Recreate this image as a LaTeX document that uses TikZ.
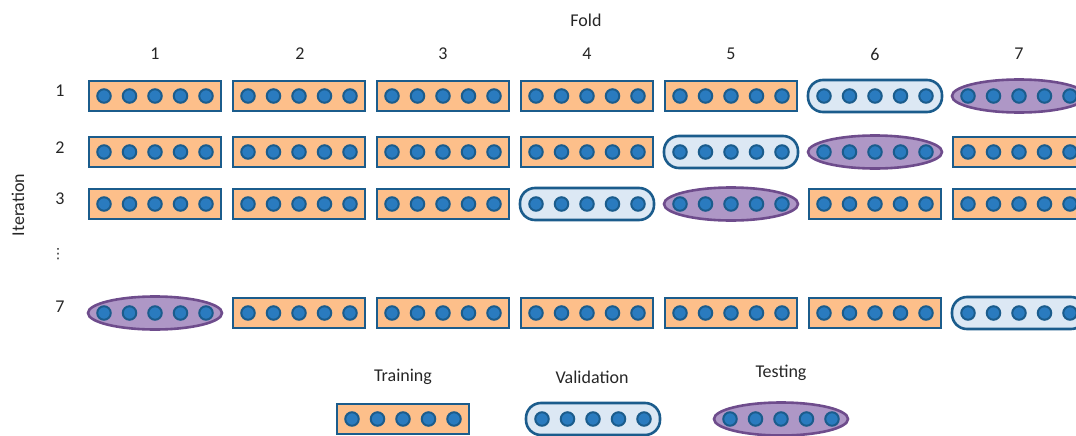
\documentclass[tikz,border=0pt]{standalone}
\usepackage{fontspec}
\setmainfont{Carlito}
\newfontfamily\symfont{DejaVu Sans}
\usetikzlibrary{shapes.geometric}
\definecolor{trainfill}{HTML}{FDBF8A}
\definecolor{edgeblue}{HTML}{1B5C8C}
\definecolor{dotfill}{HTML}{2A7BBF}
\definecolor{valfill}{HTML}{DCE8F4}
\definecolor{testfill}{HTML}{AE97C6}
\definecolor{testedge}{HTML}{6E4C8C}

\tikzset{
  trainbox/.style={draw=edgeblue, fill=trainfill, line width=2.6pt,
    minimum width=132pt, minimum height=30pt, inner sep=0pt},
  valbox/.style={draw=edgeblue, fill=valfill, line width=2.6pt, rounded corners=15pt,
    minimum width=134pt, minimum height=32pt, inner sep=0pt},
  testbox/.style={ellipse, draw=testedge, fill=testfill, line width=2.6pt,
    minimum width=134pt, minimum height=33pt, inner sep=0pt},
  dot/.style={circle, draw=edgeblue, fill=dotfill, line width=2pt,
    minimum size=13.5pt, inner sep=0pt},
  lbl/.style={font=\fontsize{18}{20}\selectfont, text=black!85}
}

% one block of five samples: name, style, x, y
\newcommand\block[4]{%
  \node[#2] (#1) at (#3,#4) {};
  \foreach \k in {-2,...,2}
    \node[dot] (#1-d\k) at ([xshift=\k*25.5pt]#1.center) {};
}

\begin{document}
\begin{tikzpicture}[x=1pt,y=-1pt]
\useasboundingbox (0,0) rectangle (1076,436);
\clip (0,0) rectangle (1076,436);

% axis captions
\node[lbl] (foldlbl) at (586,20) {Fold};
\node[lbl, rotate=90] (iterlbl) at (18,205) {Iteration};
\foreach \i/\x in {1/155,2/300,3/443,4/587,5/731,6/875,7/1019}
  \node[lbl] (col\i) at (\x,54) {\i};
\foreach \r/\y in {1/91,2/148,3/199,7/307}
  \node[lbl] (row\r) at (60,\y) {\r};
\node[lbl, font=\symfont\fontsize{14}{16}\selectfont] (rowdots) at (58,254) {⋮};

% iteration rows
\foreach \r/\y/\types in {
    1/96/{trainbox,trainbox,trainbox,trainbox,trainbox,valbox,testbox},
    2/152/{trainbox,trainbox,trainbox,trainbox,valbox,testbox,trainbox},
    3/204/{trainbox,trainbox,trainbox,valbox,testbox,trainbox,trainbox},
    7/313/{testbox,trainbox,trainbox,trainbox,trainbox,trainbox,valbox}}{
  \foreach \t [count=\c] in \types {
    \pgfmathsetmacro\xc{155+(\c-1)*144}
    \block{b\r-\c}{\t}{\xc}{\y}
  }
}

% legend
\node[lbl] (legtrain) at (403,377) {Training};
\node[lbl] (legval) at (592,377) {Validation};
\node[lbl] (legtest) at (781,373) {Testing};
\block{keytrain}{trainbox}{403}{419}
\block{keyval}{valbox}{593}{419}
\block{keytest}{testbox}{781}{419}
\end{tikzpicture}
\end{document}
